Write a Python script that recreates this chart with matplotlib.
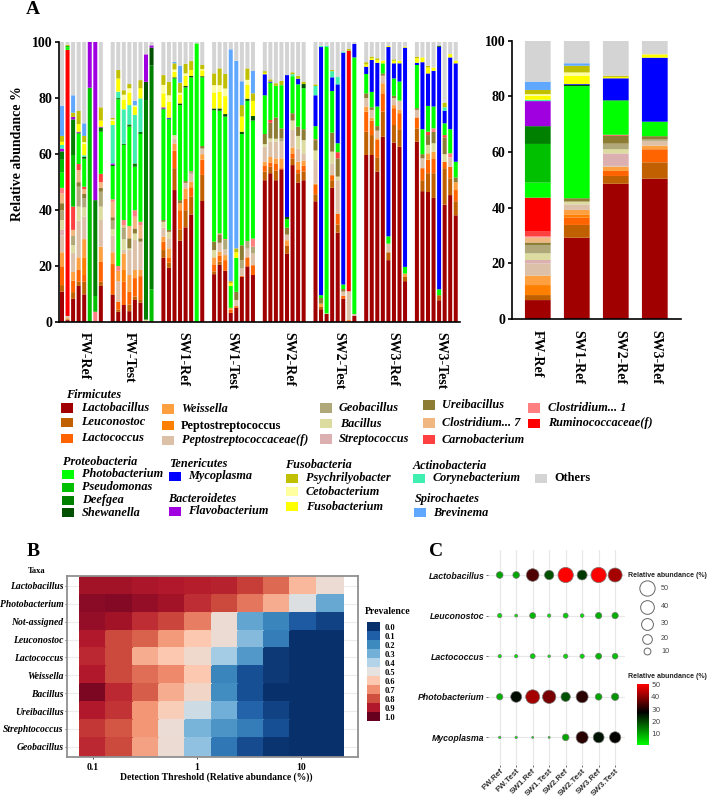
import numpy as np
import matplotlib
matplotlib.use("Agg")
import matplotlib.pyplot as plt
from matplotlib.colors import LinearSegmentedColormap
from matplotlib.patches import Rectangle

W, H = 709, 797
SERIF = "Liberation Serif"
SANS = "Liberation Sans"

# stacked bars: cumulative top of each taxon, bottom to top
FW_REF = [
    dict(Lac=11, Leu=13.3, Lcc=20, Wei=25, Pf=31, Str=33, Bac=36.5, Geo=40, Ure=42.5, C7=46, C1=48, Pho=53.4, Pse=58, Def=61, Fla=62, Cor=63.3, Fus=64.4, Psy=66.5, Bre=77.3, Oth=100),
    dict(Lac=0.8, Leu=1.1, Wei=1.5, Pf=2.3, Rum=97.2, Pho=98.1, Pse=98.6, Psy=99, Oth=100),
    dict(Lac=8.4, Leu=10.8, Lcc=14.9, Wei=18, Pf=24.8, Bac=27.6, Geo=30.8, C7=33, Car=41.3, Pse=59.7, Def=72.4, Fla=73.3, Psy=74.8, Bre=81, Oth=100),
    dict(Lac=13, Leu=14.5, Lcc=18.9, Wei=23.2, Pf=36.3, Bac=41.3, Geo=48.4, Ure=50, C7=54.3, Car=56.5, Pho=67.4, She=67.7, Fla=68, Fus=70.7, Psy=75.4, Oth=100),
    dict(Lac=10, Leu=14.5, Lcc=16.9, Pep=23.2, Wei=29.7, Pf=37.7, Bac=41, Geo=44.2, Ure=45.8, C7=47.5, Car=48.4, Pho=58.4, She=59, Cor=59.6, Fus=63.6, Cet=64.3, Psy=66.5, Bre=71, Oth=100),
    dict(Pse=83.7, Fla=100),
    dict(C1=3.8, Pse=9.4, Def=43.6, Fla=100),
    dict(Lac=13, Leu=14.5, Lcc=21.6, Wei=27, Pf=36.5, Bac=41.3, Geo=46.6, Ure=48, C7=50, Car=53, Pho=68, Def=69.5, Fla=69.8, Fus=72, Psy=76.7, Oth=100),
]
FW_TEST = [
    dict(Lac=9.8, Leu=10.1, Lcc=20.8, Wei=25, Pf=31, Bac=33.2, Geo=36.3, Ure=37.5, C7=43, C1=43.9, Pho=55.8, She=56.2, Fla=56.7, Cor=70.4, Fus=71.9, Cet=72.4, Psy=72.9, Oth=100),
    dict(Lac=3.8, Leu=4.6, Lcc=7.4, Pf=14.7, Wei=18.4, C1=20.1, Pho=79.5, Def=80, Cor=82.3, Fus=87, Psy=90, Oth=100),
    dict(Lac=6.2, Lcc=14.5, Pep=18.7, Wei=24.6, Pf=25.8, Bac=29.6, Geo=33.9, C7=34.7, C1=36.5, Pho=63.3, Def=63.7, Cor=76, Fus=79.3, Cet=81.2, Psy=82.8, Oth=100),
    dict(Lac=4, Leu=6.4, Lcc=10.9, Wei=16.9, Pf=25.8, Bac=26.4, Ure=30, C7=34.4, Pho=69.8, Def=70.6, Cor=77.5, Fus=82, Cet=83.5, Psy=85, Oth=100),
    dict(Lac=8, Leu=9.2, Lcc=15.8, Wei=18.7, Pf=29.4, Bac=31.7, Ure=33.5, C7=37.7, C1=40, Pho=55.5, Def=56.7, Cor=74, Fus=77, Cet=77.4, Bre=79, Oth=100),
    dict(Lac=7, Leu=8, Lcc=16.5, Wei=18.7, Pf=28.8, Ure=30, C7=34.7, C1=35.9, Pho=67.2, Def=67.9, Cor=79.9, Fus=83.5, Psy=86.4, Oth=100),
    dict(Bac=1, Def=79.3, She=85.8, Fla=95.6, Oth=100),
    dict(Car=0.4, Pse=11.8, Def=91.7, She=98, Fla=98.8, Oth=100),
]
SW1_REF = [
    dict(Lac=23, Leu=25.8, Lcc=28.8, Wei=30.6, Pf=33.8, Bac=35.9, Ure=36.5, Pho=76, She=76.3, Fla=76.7, Fus=81.7, Cet=84.7, Psy=88.2, Oth=100),
    dict(Lac=19.5, Leu=21.3, Lcc=23.2, Wei=26.4, Pf=30, Bac=32.3, Ure=33, Pho=72.4, She=72.7, Myc=73, Fus=78.7, Cet=81, Psy=85.8, Oth=100),
    dict(Lac=47.2, Leu=55, Lcc=61.2, Wei=63.8, Pf=65.6, Bac=66.8, Pho=87, She=87.4, Fus=89.4, Cet=90.2, Psy=92.4, Bre=92.9, Oth=100),
    dict(Lac=29.1, Leu=33.2, Lcc=40, Wei=42.5, Ure=43.6, Pho=77.5, She=78.1, Fus=81.3, Cet=81.9, Psy=85.5, Bre=91.6, Oth=100),
    dict(Lac=33.9, Leu=40, Lcc=44.2, Wei=47.8, Pf=49.8, Ure=50.4, Pho=83.8, She=84.3, Fus=87.9, Cet=88.8, Psy=92.2, Oth=100),
    dict(Lac=38.5, Leu=44.8, Lcc=48.2, Wei=50.2, Pf=52.6, Str=53, Geo=54, Pho=87.4, She=87.9, Fus=90, Psy=93.2, Oth=100),
    dict(Pho=99.5, Oth=100),
    dict(Lac=43.3, Leu=52.6, Lcc=58, Wei=60, Pf=62, Ure=62.9, Pho=87.4, She=87.8, Fus=89.9, Cet=90.3, Psy=91.8, Oth=100),
]
SW1_TEST = [
    dict(Lac=17.2, Leu=18.2, Lcc=20.7, Wei=23.2, Bac=25.8, Ure=28.8, Pho=75.7, She=76.3, Fus=82, Cet=84.6, Psy=88.8, Oth=100),
    dict(Lac=20.5, Leu=21.7, Lcc=23.7, Wei=25.2, Pf=28.4, Ure=31.4, C1=31.7, Pho=75.5, She=76.3, Fus=82.3, Cet=84.6, Psy=90.6, Oth=100),
    dict(Lac=18.4, Lcc=22.2, Wei=24, Pf=26, Geo=29.4, C1=29.7, Pho=73.4, She=74.3, Fus=80.7, Cet=83.4, Psy=88.6, Oth=100),
    dict(Lac=3.4, Lcc=4.5, Wei=5.2, Pho=13, Fus=14, Psy=14.7, Bre=97.4, Oth=100),
    dict(Lac=5.2, Lcc=5.8, Pf=8, Ure=10.9, Pho=23, Fus=25, Psy=26.4, Bre=93.3, Oth=100),
    dict(Lac=16.3, Lcc=16.6, Pf=19.2, Geo=22.2, Ure=27.5, Pho=67.2, She=68, Fus=73.4, Psy=77.5, Bre=86, Oth=100),
    dict(Lac=20, Lcc=23.2, Pf=26.3, Geo=29, Pho=79, She=79.8, Fus=84.7, Cet=86.5, Psy=90.6, Oth=100),
    dict(Lac=16.9, Lcc=20.4, Pf=24.6, Geo=27, C1=29.9, Pho=72, She=73.6, Fus=79, Psy=81.7, Bre=89.7, Oth=100),
]
SW2_REF = [
    dict(Lac=50.7, Leu=53.8, Lcc=56, Wei=57.3, Pf=62.7, Bac=63.6, Ure=67.2, Pho=81, Myc=88.5, Fus=89, Psy=89.6, Oth=100),
    dict(Lac=53.2, Leu=55.5, Lcc=57, Wei=59, Pf=64.5, Bac=65.6, Ure=71.2, Car=72.2, Pho=85.5, Myc=85.9, Psy=86.7, Oth=100),
    dict(Lac=50.7, Leu=54.1, Lcc=56.7, Wei=58.5, Pf=64.5, Bac=65.5, Ure=73.1, Pho=84.4, Psy=85.3, Oth=100),
    dict(Lac=54.6, Lcc=55, Wei=58.5, Pf=64.5, Geo=65.6, Ure=69.2, Pho=84.6, Psy=86.1, Oth=100),
    dict(Lac=24.6, Leu=27.3, Lcc=27.5, Wei=29.3, Pf=31.3, Ure=33.8, Pho=36.8, She=37.6, Myc=88.2, Oth=100),
    dict(Lac=56.1, Leu=58.5, Lcc=60.3, Wei=62.4, Pf=68.6, Bac=72, Ure=74.6, Pho=87.8, Cor=88.5, Psy=89.2, Oth=100),
    dict(Lac=49.9, Leu=53.2, Lcc=54.6, Wei=57.3, Pf=62, Bac=66.5, Ure=69.8, Pho=84.9, Myc=86.9, Psy=87.9, Oth=100),
    dict(Lac=50.7, Leu=53.8, Lcc=55.8, Wei=57.7, Pf=60.3, Bac=65, Ure=68.9, Pho=83.5, She=85, Psy=85.9, Oth=100),
]
SW2_TEST = [
    dict(Lac=43.2, Leu=45.7, Lcc=49, Wei=49.5, Pf=57.9, Bac=61.3, Ure=65, Car=65.3, Pho=70, Myc=81, Cor=84.3, Psy=84.9, Oth=100),
    dict(Lac=4.7, Leu=5.5, Wei=6.7, Ure=8.7, Pho=9.7, Myc=98.2, Cor=98.6, Oth=100),
    dict(Lac=3, Pf=3.2, Pho=98.2, Cor=98.6, Oth=100),
    dict(Lac=48, Leu=50.7, Lcc=52.5, Pf=56.7, Bac=60.9, Ure=67.7, Pho=82.5, Myc=87.4, Cor=89.6, Psy=90, Oth=100),
    dict(Lac=32, Leu=34.9, Lcc=38.8, Pf=50.7, Bac=52, Ure=58.5, Car=60.7, Pho=63.9, Myc=84.9, Cor=87.5, Oth=100),
    dict(Lac=8.5, Lcc=9.5, Pf=11, Ure=11.9, Pho=13.5, Myc=96.2, Cor=96.6, Oth=100),
    dict(Lcc=0.8, Pf=11.1, Rum=96.9, Psy=97.5, Oth=100),
    dict(Lac=2.4, Pf=3, Pho=94.5, Myc=99.3, Oth=100),
]
SW3_REF = [
    dict(Lac=59.7, Leu=68, Lcc=75.2, Wei=77, Pf=80, Ure=81.7, Pho=88.6, Myc=91.2, Fus=92, Psy=92.8, Oth=100),
    dict(Lac=59.7, Leu=66.8, Lcc=71.9, Wei=73, Pf=75.8, Ure=76.7, Pho=82.2, Myc=93.6, Fus=94.2, Psy=94.8, Oth=100),
    dict(Lac=53.8, Leu=58.9, Lcc=65.1, Wei=65.7, Pf=68.4, Ure=70, Pho=77, Myc=92.6, Fus=93.6, Psy=94.2, Oth=100),
    dict(Lac=66.2, Leu=75.2, Lcc=81.7, Wei=85.3, Pf=88, Ure=88.8, Pho=92.4, Fus=93.4, Oth=100),
    dict(Lac=22.2, Leu=25, Pf=28.1, Pho=30.7, Myc=98.2, Fus=98.6, Oth=100),
    dict(Lac=64.1, Leu=70.4, Lcc=76.4, Wei=77.5, Pf=80, Ure=80.8, Pho=87, Myc=92.4, Fus=93.3, Psy=93.8, Oth=100),
    dict(Lac=62.7, Leu=68.9, Lcc=74.6, Wei=75.8, Pf=79.1, Pho=85.9, Myc=92.4, Fus=93.4, Oth=100),
    dict(Lac=14.7, Leu=16.2, Wei=17.4, Pho=19.8, Myc=98, Fus=98.4, Oth=100),
]
SW3_TEST = [
    dict(Lac=64.5, Leu=69.2, Lcc=73.1, Pf=75.8, Ure=76.4, Pho=91.8, Myc=92.6, Fus=94.2, Psy=94.8, Oth=100),
    dict(Lac=46.8, Leu=50.7, Lcc=55, Pf=58.5, Ure=60, Pho=68.9, Myc=92.8, Fus=94.5, Oth=100),
    dict(Lac=46.5, Leu=53.2, Lcc=58, Wei=60.3, Bac=63.3, Ure=66.8, Car=68, Pho=77.2, Myc=88.8, Fus=90.9, Psy=91.5, Oth=100),
    dict(Lac=44.4, Leu=53.2, Lcc=58.5, Wei=60.9, Bac=63.9, Ure=67.9, C1=69.2, Pho=77, Myc=89.7, Fus=90.9, Oth=100),
    dict(Lac=7.9, Leu=9.7, Pho=11.8, Myc=98.3, She=98.7, Oth=100),
    dict(Lac=42, Leu=55, Lcc=57.3, Bac=60, Ure=66, Car=66.8, Pho=71, Myc=75.5, Cor=76.7, Psy=78.4, Oth=100),
    dict(Lac=45.4, Leu=51.4, Lcc=55.5, Pf=58.9, C1=60.3, Pho=68.9, Myc=94.5, Fus=95.7, Oth=100),
    dict(Lac=38.2, Leu=43.2, Lcc=47.2, Wei=50, Ure=51.7, Pho=57.3, Myc=92.4, Fus=93.4, Oth=100),
]
SAMPLE_GROUPS = [FW_REF, FW_TEST, SW1_REF, SW1_TEST, SW2_REF, SW2_TEST, SW3_REF, SW3_TEST]
SAMPLE_LABELS = ["FW-Ref", "FW-Test", "SW1-Ref", "SW1-Test", "SW2-Ref", "SW2-Test", "SW3-Ref", "SW3-Test"]

MEAN_LABELS = ["FW-Ref", "SW1-Ref", "SW2-Ref", "SW3-Ref"]
MEAN_BARS = [
    dict(Lac=6.8, Leu=8.6, Pep=12.2, Wei=15.6, Pf=20, Str=21.2, Bac=23.6, Geo=26.6, Ure=27.5, C7=29.3, C1=29.7, Car=31.6, Rum=43.6, Pho=49, Pse=62.9, Def=69.3, Fla=78.3, Cor=78.8, Fus=80.2, Cet=80.8, Psy=82.3, Bre=85.3, Oth=100),
    dict(Lac=29.2, Leu=33.8, Lcc=36.4, Pep=37.6, Wei=39.2, Pf=41.2, Bac=42.2, Ure=43.4, Pho=83.7, She=84.1, Myc=84.4, Fus=87.4, Cet=88.6, Psy=91, Bre=91.9, Oth=100),
    dict(Lac=48.6, Leu=51.4, Lcc=53.2, Wei=54.7, Pf=55, Str=59.5, Bac=61, Geo=63, Ure=65.9, Car=66.2, Pho=78.3, Pse=78.6, Myc=86.5, Fus=87, Psy=87.4, Oth=100),
    dict(Lac=50.4, Leu=56.3, Lcc=61, Wei=62.3, Pf=64, Geo=64.5, Ure=65.7, Pho=70.9, Myc=93.9, Fus=95.1, Oth=100),
]

TAXA_COLORS = dict(
    Lac="#a00000", Leu="#c06000", Lcc="#ff6400", Pep="#ff8000", Wei="#ffa040", Pf="#dcc0a8",
    Str="#dcb0b0", Bac="#dcdca0", Geo="#b0a878", Ure="#8c7c34", C7="#f0b880", C1="#ff8080",
    Car="#ff4040", Rum="#ff0000", Pho="#00ff00", Pse="#00c000", Def="#008000", She="#005000",
    Myc="#0000ff", Fla="#a000e0", Cor="#40f0b0", Fus="#ffff00", Cet="#ffffa0", Psy="#c0c000",
    Bre="#60a8ff", Oth="#d4d4d4",
)

# heatmap
HEAT_TAXA = ["Lactobacillus", "Photobacterium", "Not-assigned", "Leuconostoc", "Lactococcus",
             "Weissella", "Bacillus", "Ureibacillus", "Strephtococcus", "Geobacillus"]
HEAT_THRESHOLDS = [0.1, 0.18, 0.32, 0.57, 1.03, 1.85, 3.3, 5.9, 10.6, 19]
HEAT_VALUES = [
    [.92, .92, .91, .90, .89, .88, .83, .76, .63, .53],
    [.95, .96, .94, .92, .86, .81, .74, .65, .48, .28],
    [.94, .92, .86, .82, .73, .53, .27, .19, .09, .04],
    [.90, .81, .77, .68, .60, .53, .33, .17, .00, .00],
    [.87, .81, .65, .60, .54, .38, .24, .02, .00, .00],
    [.90, .81, .75, .71, .60, .19, .07, .02, .00, .00],
    [.97, .87, .78, .65, .55, .21, .07, .00, .00, .00],
    [.90, .85, .69, .58, .45, .30, .11, .04, .00, .00],
    [.84, .79, .69, .52, .31, .23, .17, .07, .00, .00],
    [.87, .81, .67, .53, .35, .16, .06, .01, .00, .00],
]
PREV_COLORS = ["#08306b", "#1f5fa8", "#3d8abf", "#72b0d8", "#b2d3e8", "#e6e2e0",
               "#fcc9b0", "#f19070", "#d05040", "#b2182b", "#67001f"]
PREV_LABELS = ["0.0", "0.1", "0.2", "0.3", "0.4", "0.5", "0.6", "0.7", "0.8", "0.9", "1.0"]

# bubbles
BUBBLE_TAXA = ["Lactobacillus", "Leuconostoc", "Lactococcus", "Photobacterium", "Mycoplasma"]
BUBBLE_SAMPLES = ["FW.Ref", "FW.Test", "SW1.Ref", "SW1.Test", "SW2.Ref", "SW2.Test", "SW3.Ref", "SW3.Test"]
LACTOBACILLUS_AB = [9.5, 9.5, 34, 18.5, 50, 21, 50, 41.7]
LEUCONOSTOC_AB = [4, 1.9, 7.7, 2.4, 5.3, 2.9, 8.5, 8.5]
LACTOCOCCUS_AB = [2.4, 2.4, 5.3, 1.5, 4, 4, 7.7, 6.8]
PHOTOBACTERIUM_AB = [8.5, 25.7, 41.7, 37.8, 18.5, 30.6, 9.5, 11.4]
MYCOPLASMA_AB = [1.2, 1.2, 0.85, 0.85, 9.5, 30.6, 25, 27.3]
BUBBLE_VALUES = [LACTOBACILLUS_AB, LEUCONOSTOC_AB, LACTOCOCCUS_AB, PHOTOBACTERIUM_AB, MYCOPLASMA_AB]
SIZE_LEGEND = [50, 40, 30, 20, 10]


def px_axes(l, t, r, b):
    return fig.add_axes([l / W, 1 - b / H, (r - l) / W, (b - t) / H])


def ftext(x, y, s, **kw):
    kw.setdefault("family", SERIF)
    kw.setdefault("va", "center")
    return fig.text(x / W, 1 - y / H, s, **kw)


def stack(ax, x, width, tops):
    prev = 0
    for k, top in tops.items():
        bars = ax.bar(x, top - prev, width, bottom=prev, color=TAXA_COLORS[k], linewidth=0)
        bars[0].set_snap(False)
        prev = top


def bar_style(ax):
    for s in ["top", "right"]:
        ax.spines[s].set_visible(False)
    for s in ["left", "bottom"]:
        ax.spines[s].set_linewidth(1.2)
    ax.set_ylim(0, 100)
    ax.set_yticks([0, 20, 40, 60, 80, 100])
    ax.tick_params(axis="y", width=1.2, length=3, pad=1.5)
    ax.set_xticks([])
    for t in ax.get_yticklabels():
        t.set_family(SERIF)
        t.set_weight("bold")
        t.set_fontsize(10)


fig = plt.figure(figsize=(W / 100, H / 100), dpi=100)

# panel A, samples
ax = px_axes(58.6, 42, 460, 322.4)
BAR_PITCH = 5.55
GROUP_PITCH = 50.7 / BAR_PITCH
for g, group in enumerate(SAMPLE_GROUPS):
    for i, tops in enumerate(group):
        stack(ax, g * GROUP_PITCH + i, 0.72, tops)
ax.set_xlim(-(62 - 58.6) / BAR_PITCH, (460 - 62) / BAR_PITCH)
bar_style(ax)
label_x = [84, 129, 183, 232, 289, 339, 393, 441]
for x, s in zip(label_x, SAMPLE_LABELS):
    ftext(x, 332, s, rotation=270, ha="center", va="top", weight="bold", fontsize=10)
ftext(18, 154, "Relative abundance %", rotation=90, ha="center", weight="bold", fontsize=10)

# panel A, means
ax = px_axes(511.7, 40.7, 680.7, 319)
for i, tops in enumerate(MEAN_BARS):
    stack(ax, i, 0.66, tops)
ax.set_xlim(-(537.8 - 511.7) / 39, (680.7 - 537.8) / 39)
bar_style(ax)
for x, s in zip([537, 578, 620, 656], MEAN_LABELS):
    ftext(x, 330, s, rotation=270, ha="center", va="top", weight="bold", fontsize=10)

ftext(33, 9, "A", ha="center", weight="bold", fontsize=14)
ftext(33, 551.5, "B", ha="center", weight="bold", fontsize=14)
ftext(436.5, 551.5, "C", ha="center", weight="bold", fontsize=14)

# legend of panel A
LEG_FS = 8.8
for x, y, s in [(65.7, 395.3, "Firmicutes"), (63.3, 462.3, "Proteobacteria"), (169.3, 463.7, "Tenericutes"),
                (167.7, 498.7, "Bacteroidetes"), (285.3, 465, "Fusobacteria"), (412.7, 465.7, "Actinobacteria"),
                (415, 499, "Spirochaetes")]:
    ftext(x, y, s, weight="bold", style="italic", fontsize=LEG_FS)
legend_rows = [
    ("Lac", "Lactobacillus", 61, 408, 80.7), ("Leu", "Leuconostoc", 61, 422.3, 80.7), ("Lcc", "Lactococcus", 61, 438.3, 80.7),
    ("Wei", "Weissella", 161.7, 409, 181), ("Pep", "Peptostreptococcus", 161.7, 425.7, 181), ("Pf", "Peptostreptococcaceae(f)", 162, 440.3, 182),
    ("Geo", "Geobacillus", 320, 408, 339), ("Bac", "Bacillus", 320, 423.7, 340), ("Str", "Streptococcus", 320, 439, 339),
    ("Ure", "Ureibacillus", 422.7, 405, 442), ("C7", "Clostridium... 7", 422.7, 423, 441.7), ("Car", "Carnobacterium", 422.7, 439.7, 441.7),
    ("C1", "Clostridium... 1", 528, 408, 547.7), ("Rum", "Ruminococcaceae(f)", 528, 423.3, 547.7),
    ("Pho", "Photobacterium", 62, 474.3, 81.7), ("Pse", "Pseudomonas", 62, 487.3, 81.7), ("Def", "Deefgea", 62, 500.3, 81.7), ("She", "Shewanella", 62, 512.7, 81.7),
    ("Myc", "Mycoplasma", 169.3, 476.3, 188.3), ("Fla", "Flavobacterium", 168.5, 511.3, 188.3),
    ("Psy", "Psychrilyobacter", 286, 478.3, 305.7), ("Cet", "Cetobacterium", 286, 491.7, 305.7), ("Fus", "Fusobacterium", 286, 506.7, 305.7),
    ("Cor", "Corynebacterium", 413.3, 478.3, 432.7), ("Oth", "Others", 535, 478.3, 554), ("Bre", "Brevinema", 414, 512.7, 433.3),
]
for k, s, sx, y, tx in legend_rows:
    fig.add_artist(Rectangle((sx / W, 1 - (y + 4.7) / H), 12 / W, 9.4 / H, transform=fig.transFigure,
                             facecolor=TAXA_COLORS[k], edgecolor="none"))
    upright = k in ("Pep", "Oth")
    ftext(tx, y, s, weight="bold", style="normal" if upright else "italic", fontsize=LEG_FS)

# panel B
ax = px_axes(67, 575.7, 358, 757)
prev_cmap = LinearSegmentedColormap.from_list("prev", PREV_COLORS)
t = np.array(HEAT_THRESHOLDS)
edges = np.r_[t[0] ** 2 / np.sqrt(t[0] * t[1]), np.sqrt(t[:-1] * t[1:]), t[-1] ** 2 / np.sqrt(t[-2] * t[-1])]
ax.set_axisbelow(True)
ax.grid(True, color="#ececec", linewidth=0.8)
ax.pcolormesh(edges, np.arange(len(HEAT_TAXA) + 1) - 0.5, np.array(HEAT_VALUES), cmap=prev_cmap, vmin=0, vmax=1,
              edgecolors="face", linewidth=0.2, zorder=2)
ax.set_xscale("log")
ax.set_xlim(0.0562, 35.3)
ax.set_ylim(len(HEAT_TAXA) - 0.43, -0.57)
ax.set_yticks(range(len(HEAT_TAXA)))
ax.set_yticklabels(HEAT_TAXA, family=SERIF, weight="bold", style="italic", fontsize=6.9)
ax.set_xticks([0.1, 1, 10])
ax.set_xticklabels(["0.1", "1", "10"], family=SERIF, weight="bold", fontsize=7)
ax.minorticks_off()
ax.tick_params(length=1.5, width=0.7, color="#555555", pad=1)
ax.tick_params(axis="x", pad=3)
for s in ax.spines.values():
    s.set_color("#909090")
    s.set_linewidth(1.3)
ftext(216.5, 777, "Detection Threshold (Relative abundance (%))", ha="center", weight="bold", fontsize=6.9)
ftext(37, 571, "Taxa", ha="center", weight="bold", fontsize=6)
ftext(365, 612, "Prevalence", weight="bold", fontsize=7)

ax = px_axes(367, 622.3, 380, 721)
ax.pcolormesh([0, 1], np.arange(len(PREV_COLORS) + 1), np.arange(len(PREV_COLORS)).reshape(-1, 1),
              cmap=LinearSegmentedColormap.from_list("p", PREV_COLORS, N=len(PREV_COLORS)))
ax.set_ylim(len(PREV_COLORS), 0)
ax.set_xticks([])
ax.set_yticks(np.arange(len(PREV_COLORS)) + 0.5)
ax.set_yticklabels(PREV_LABELS, family=SERIF, weight="bold", fontsize=6)
ax.yaxis.tick_right()
ax.tick_params(length=0, pad=3)
for s in ax.spines.values():
    s.set_visible(False)

# panel C
ab_cmap = LinearSegmentedColormap.from_list("ab", [(0, "#00ff00"), (0.54, "#000000"), (1, "#ff0000")])


def dia_pt(v):
    # bubble area follows the value, 15.3 px across at 50 %
    return 15.3 * np.sqrt(np.asarray(v, float) / 50) * 0.72


ax = px_axes(488, 550, 625, 765)
ax.set_axisbelow(True)
ax.grid(True, color="#e8e8e8", linewidth=0.9)
for r, vals in enumerate(BUBBLE_VALUES):
    ax.scatter(range(len(vals)), [r] * len(vals), s=dia_pt(vals) ** 2, c=vals, cmap=ab_cmap, vmin=0, vmax=50,
               edgecolors="#777777", linewidths=0.5, zorder=3)
ax.set_xlim(-0.71, 7.6)
ax.set_ylim(4.68, -0.616)
ax.set_xticks(range(len(BUBBLE_SAMPLES)))
ax.set_xticklabels(BUBBLE_SAMPLES, rotation=45, ha="right", rotation_mode="anchor", family=SANS, weight="bold",
                   fontsize=5.8, color="#333333")
ax.set_yticks(range(len(BUBBLE_TAXA)))
ax.set_yticklabels(BUBBLE_TAXA, family=SANS, weight="bold", style="italic", fontsize=6.3, color="#111111")
ax.tick_params(length=1.5, width=0.6, color="#555555", pad=1)
ax.tick_params(axis="x", pad=0)
for s in ax.spines.values():
    s.set_visible(False)

ftext(628.5, 575.5, "Relative abundance (%)", family=SANS, weight="bold", fontsize=5, color="#222222")
ftext(628.5, 676.5, "Relative abundance (%)", family=SANS, weight="bold", fontsize=5, color="#222222")

ax = px_axes(630, 580, 700, 665)
ax.axis("off")
ax.set_xlim(630, 700)
ax.set_ylim(665, 580)
for v, y in zip(SIZE_LEGEND, [588.5, 607, 624, 639, 651.5]):
    ax.scatter([647], [y], s=dia_pt(v) ** 2, facecolor="white", edgecolor="#666666", linewidth=0.7)
    ax.text(661, y, str(v), family=SANS, fontsize=5.2, color="#444444", va="center")

ax = px_axes(637, 684, 649, 745)
grad = np.linspace(50.5, 0.5, 100).reshape(-1, 1)
ax.imshow(grad, aspect="auto", cmap=ab_cmap, vmin=0, vmax=50, extent=[0, 1, 0.5, 50.5])
ax.set_xticks([])
ax.set_yticks([10, 20, 30, 40, 50])
ax.yaxis.tick_right()
ax.tick_params(length=0, pad=1.5, labelsize=5.2, labelcolor="#444444")
for s in ax.spines.values():
    s.set_visible(False)

fig.savefig("out.png", dpi=100)
